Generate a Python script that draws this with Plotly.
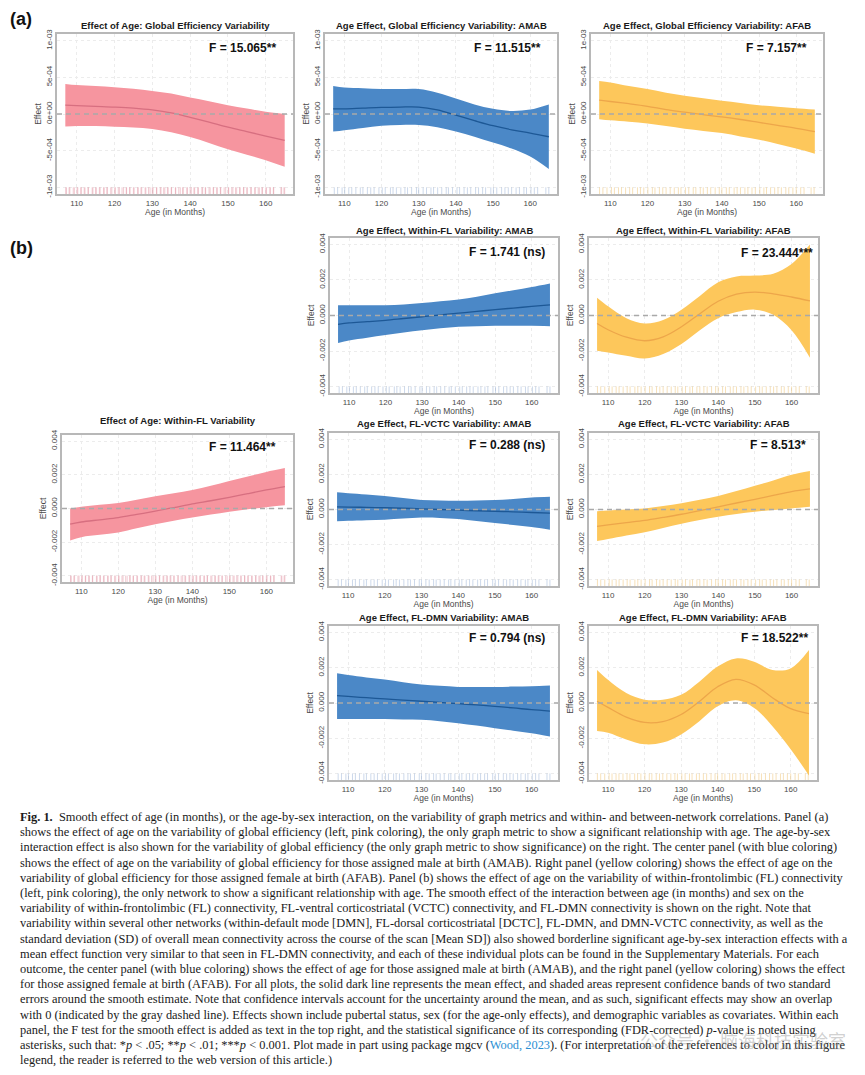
import plotly.graph_objects as go

# the page body adds an 8px margin, so the figure is drawn 8px smaller and
# every pixel position below is measured on the full 865x1075 page
OFF = 8
W, H = 865 - OFF, 1075 - OFF

age = [107, 110, 115, 120, 125, 130, 135, 140, 145, 150, 155, 160, 165]
age_ticks = [110, 120, 130, 140, 150, 160]

# ages of the individual scans, drawn as a rug along the bottom
rug_amab = [107.3, 108.2, 109.4, 110.1, 111.2, 112.0, 113.1, 114.3, 115.0, 116.2, 117.1, 118.0,
            119.3, 120.2, 121.0, 122.4, 123.1, 124.0, 125.2, 126.3, 127.0, 128.1, 129.4, 130.0,
            131.2, 132.1, 133.3, 134.0, 135.1, 136.2, 137.4, 138.0, 139.1, 140.3, 141.0, 142.2,
            143.1, 144.0, 145.3, 146.1, 147.2, 148.0, 149.4, 150.1, 151.0, 152.3, 153.2, 154.1,
            155.0, 156.2, 157.1, 158.3, 159.0, 160.2, 161.1, 162.0, 164.2, 165.0]
rug_afab = [107.1, 108.0, 109.1, 110.3, 111.1, 112.2, 113.0, 114.1, 115.2, 116.0, 117.3, 118.1,
            119.0, 120.1, 121.3, 122.0, 123.2, 124.1, 125.0, 126.1, 127.2, 128.3, 129.0, 130.2,
            131.1, 132.3, 133.0, 134.2, 135.0, 136.1, 137.0, 138.2, 139.3, 140.0, 141.2, 142.0,
            143.3, 144.1, 145.0, 146.2, 147.0, 148.1, 149.0, 150.2, 151.3, 152.0, 153.1, 154.2,
            155.1, 156.0, 157.2, 158.0, 159.1, 160.0, 161.2, 162.1, 164.0, 164.8]
rug_all = sorted(rug_amab + rug_afab)

# (a) global efficiency variability, in units of 1e-4
ge_all_mean = [1.2, 1.15, 1.05, 0.95, 0.8, 0.55, 0.15, -0.45, -1.1, -1.8, -2.4, -3.0, -3.6]
ge_all_upper = [4.1, 3.95, 3.8, 3.65, 3.45, 3.15, 2.8, 2.25, 1.75, 1.2, 0.75, 0.3, 0.0]
ge_all_lower = [-1.7, -1.65, -1.65, -1.75, -1.85, -2.05, -2.5, -3.15, -3.95, -4.8, -5.55, -6.3, -7.2]

ge_amab_mean = [0.7, 0.7, 0.8, 0.9, 0.95, 0.95, 0.55, -0.15, -0.9, -1.6, -2.15, -2.6, -3.1]
ge_amab_upper = [3.8, 3.6, 3.5, 3.4, 3.4, 3.4, 2.9, 2.1, 1.3, 0.7, 0.4, 0.6, 1.3]
ge_amab_lower = [-2.4, -2.2, -1.9, -1.6, -1.5, -1.5, -1.8, -2.4, -3.1, -3.9, -4.7, -5.8, -7.5]

ge_afab_mean = [1.9, 1.7, 1.4, 1.05, 0.6, 0.25, -0.1, -0.4, -0.75, -1.15, -1.55, -1.95, -2.4]
ge_afab_upper = [4.5, 4.3, 3.8, 3.4, 2.9, 2.5, 2.15, 1.8, 1.5, 1.2, 1.0, 0.8, 0.6]
ge_afab_lower = [-0.7, -0.85, -1.05, -1.3, -1.65, -2.0, -2.3, -2.6, -3.05, -3.5, -4.1, -4.7, -5.4]

# (b) connectivity variability, in units of 1e-3
fl_all_mean = [-0.93, -0.8, -0.67, -0.54, -0.35, -0.16, 0.05, 0.27, 0.46, 0.66, 0.88, 1.1, 1.3]
fl_all_upper = [0.0, 0.1, 0.22, 0.33, 0.52, 0.72, 0.9, 1.1, 1.35, 1.63, 1.9, 2.17, 2.4]
fl_all_lower = [-1.9, -1.7, -1.56, -1.42, -1.17, -0.93, -0.73, -0.54, -0.36, -0.19, -0.05, 0.08, 0.19]

fl_amab_mean = [-0.5, -0.42, -0.35, -0.27, -0.17, -0.07, 0.04, 0.13, 0.23, 0.33, 0.42, 0.51, 0.6]
fl_amab_upper = [0.58, 0.58, 0.58, 0.58, 0.62, 0.7, 0.8, 0.9, 1.05, 1.25, 1.42, 1.6, 1.8]
fl_amab_lower = [-1.55, -1.4, -1.25, -1.1, -0.95, -0.83, -0.72, -0.63, -0.6, -0.58, -0.58, -0.58, -0.6]

fl_afab_mean = [-0.45, -0.8, -1.22, -1.42, -1.2, -0.63, 0.1, 0.8, 1.2, 1.32, 1.22, 1.04, 0.82]
fl_afab_upper = [1.0, 0.52, -0.15, -0.45, -0.25, 0.33, 1.1, 1.87, 2.2, 2.25, 2.35, 2.9, 4.0]
fl_afab_lower = [-1.98, -2.08, -2.27, -2.42, -2.17, -1.6, -0.83, -0.15, 0.19, 0.33, 0.04, -0.83, -2.37]

vctc_amab_mean = [0.15, 0.14, 0.12, 0.1, 0.07, 0.04, 0.0, -0.04, -0.07, -0.1, -0.13, -0.17, -0.21]
vctc_amab_upper = [0.98, 0.92, 0.85, 0.77, 0.65, 0.54, 0.52, 0.5, 0.52, 0.54, 0.6, 0.69, 0.73]
vctc_amab_lower = [-0.67, -0.64, -0.61, -0.58, -0.52, -0.46, -0.48, -0.54, -0.65, -0.77, -0.88, -1.0, -1.15]

vctc_afab_mean = [-0.96, -0.88, -0.75, -0.62, -0.45, -0.27, -0.06, 0.15, 0.37, 0.58, 0.8, 1.02, 1.17]
vctc_afab_upper = [-0.1, -0.06, 0.0, 0.06, 0.2, 0.35, 0.55, 0.77, 1.05, 1.35, 1.65, 1.98, 2.2]
vctc_afab_lower = [-1.8, -1.68, -1.48, -1.29, -1.05, -0.81, -0.6, -0.42, -0.26, -0.13, -0.03, 0.06, 0.15]

dmn_amab_mean = [0.42, 0.37, 0.3, 0.23, 0.16, 0.1, 0.03, -0.04, -0.11, -0.19, -0.28, -0.38, -0.46]
dmn_amab_upper = [1.68, 1.58, 1.45, 1.33, 1.18, 1.05, 0.97, 0.91, 0.9, 0.91, 0.93, 0.95, 0.99]
dmn_amab_lower = [-0.91, -0.91, -0.91, -0.91, -0.93, -0.95, -1.03, -1.14, -1.28, -1.43, -1.57, -1.71, -1.9]

dmn_afab_mean = [0.1, -0.25, -0.8, -1.1, -1.05, -0.65, 0.09, 0.92, 1.34, 1.03, 0.3, -0.32, -0.6]
dmn_afab_upper = [1.87, 1.31, 0.56, 0.19, 0.19, 0.47, 1.21, 2.06, 2.52, 2.34, 1.87, 1.96, 3.0]
dmn_afab_lower = [-1.59, -1.68, -2.06, -2.34, -2.24, -1.78, -1.03, -0.19, 0.15, -0.28, -1.31, -2.62, -4.1]

ticks_a = [-1e-3, -5e-4, 0, 5e-4, 1e-3]
ticktext_a = ["-1e-03", "-5e-04", "0e+00", "5e-04", "1e-03"]
ticks_b = [-0.004, -0.002, 0, 0.002, 0.004]
ticktext_b = ["-0.004", "-0.002", "0.000", "0.002", "0.004"]

PINK = dict(fill="#f6959f", line="#d76f80", rug="rgba(215,110,130,0.35)")
BLUE = dict(fill="#4b88c7", line="#1d5896", rug="rgba(90,130,190,0.3)")
YELLOW = dict(fill="#fdc75b", line="#eda64a", rug="rgba(235,180,80,0.4)")

# box = (left, right, top, bottom) of the plot frame, in page pixels
panels = [
    dict(title="Effect of Age: Global Efficiency Variability", f="F = 15.065**",
         data=(ge_all_mean, ge_all_lower, ge_all_upper), unit=1e-4, kind="a",
         col=PINK, rug=rug_all, box=(57, 293, 34, 194), title_y=26, f_x=0.936, f_y=0.91),
    dict(title="Age Effect, Global Efficiency Variability: AMAB", f="F = 11.515**",
         data=(ge_amab_mean, ge_amab_lower, ge_amab_upper), unit=1e-4, kind="a",
         col=BLUE, rug=rug_amab, box=(325, 557, 34, 194), title_y=26, f_x=0.938, f_y=0.91),
    dict(title="Age Effect, Global Efficiency Variability: AFAB", f="F = 7.157**",
         data=(ge_afab_mean, ge_afab_lower, ge_afab_upper), unit=1e-4, kind="a",
         col=YELLOW, rug=rug_afab, box=(591, 823, 34, 194), title_y=26, f_x=0.94, f_y=0.91),
    dict(title="Age Effect, Within-FL Variability: AMAB", f="F = 1.741 (ns)",
         data=(fl_amab_mean, fl_amab_lower, fl_amab_upper), unit=1e-3, kind="b",
         col=BLUE, rug=rug_amab, box=(330, 558, 238, 393), title_y=230, f_x=0.952, f_y=0.91),
    dict(title="Age Effect, Within-FL Variability: AFAB", f="F = 23.444***",
         data=(fl_afab_mean, fl_afab_lower, fl_afab_upper), unit=1e-3, kind="b",
         col=YELLOW, rug=rug_afab, box=(589, 818, 238, 393), title_y=230, f_x=0.987, f_y=0.905),
    dict(title="Effect of Age: Within-FL Variability", f="F = 11.464**",
         data=(fl_all_mean, fl_all_lower, fl_all_upper), unit=1e-3, kind="b",
         col=PINK, rug=rug_all, box=(62, 293, 435, 582), title_y=420, f_x=0.935, f_y=0.915),
    dict(title="Age Effect, FL-VCTC Variability: AMAB", f="F = 0.288 (ns)",
         data=(vctc_amab_mean, vctc_amab_lower, vctc_amab_upper), unit=1e-3, kind="b",
         col=BLUE, rug=rug_amab, box=(329, 558, 433, 586), title_y=424, f_x=0.952, f_y=0.92),
    dict(title="Age Effect, FL-VCTC Variability: AFAB", f="F = 8.513*",
         data=(vctc_afab_mean, vctc_afab_lower, vctc_afab_upper), unit=1e-3, kind="b",
         col=YELLOW, rug=rug_afab, box=(589, 818, 433, 586), title_y=424, f_x=0.956, f_y=0.92),
    dict(title="Age Effect, FL-DMN Variability: AMAB", f="F = 0.794 (ns)",
         data=(dmn_amab_mean, dmn_amab_lower, dmn_amab_upper), unit=1e-3, kind="b",
         col=BLUE, rug=rug_amab, box=(329, 558, 626, 780), title_y=617, f_x=0.952, f_y=0.92),
    dict(title="Age Effect, FL-DMN Variability: AFAB", f="F = 18.522**",
         data=(dmn_afab_mean, dmn_afab_lower, dmn_afab_upper), unit=1e-3, kind="b",
         col=YELLOW, rug=rug_afab, box=(589, 817, 626, 780), title_y=617, f_x=0.97, f_y=0.92),
]

caption_lines = [
    "<b>Fig. 1.</b>  Smooth effect of age (in months), or the age-by-sex interaction, on the variability of graph metrics and within- and between-network correlations. Panel (a)",
    "shows the effect of age on the variability of global efficiency (left, pink coloring), the only graph metric to show a significant relationship with age. The age-by-sex",
    "interaction effect is also shown for the variability of global efficiency (the only graph metric to show significance) on the right. The center panel (with blue coloring)",
    "shows the effect of age on the variability of global efficiency for those assigned male at birth (AMAB). Right panel (yellow coloring) shows the effect of age on the",
    "variability of global efficiency for those assigned female at birth (AFAB). Panel (b) shows the effect of age on the variability of within-frontolimbic (FL) connectivity",
    "(left, pink coloring), the only network to show a significant relationship with age. The smooth effect of the interaction between age (in months) and sex on the",
    "variability of within-frontolimbic (FL) connectivity, FL-ventral corticostriatal (VCTC) connectivity, and FL-DMN connectivity is shown on the right. Note that",
    "variability within several other networks (within-default mode [DMN], FL-dorsal corticostriatal [DCTC], FL-DMN, and DMN-VCTC connectivity, as well as the",
    "standard deviation (SD) of overall mean connectivity across the course of the scan [Mean SD]) also showed borderline significant age-by-sex interaction effects with a",
    "mean effect function very similar to that seen in FL-DMN connectivity, and each of these individual plots can be found in the Supplementary Materials. For each",
    "outcome, the center panel (with blue coloring) shows the effect of age for those assigned male at birth (AMAB), and the right panel (yellow coloring) shows the effect",
    "for those assigned female at birth (AFAB). For all plots, the solid dark line represents the mean effect, and shaded areas represent confidence bands of two standard",
    "errors around the smooth estimate. Note that confidence intervals account for the uncertainty around the mean, and as such, significant effects may show an overlap",
    "with 0 (indicated by the gray dashed line). Effects shown include pubertal status, sex (for the age-only effects), and demographic variables as covariates. Within each",
    "panel, the F test for the smooth effect is added as text in the top right, and the statistical significance of its corresponding (FDR-corrected) <i>p</i>-value is noted using",
    "asterisks, such that: *<i>p</i> &lt; .05; **<i>p</i> &lt; .01; ***<i>p</i> &lt; 0.001. Plot made in part using package mgcv (<span style='color:#2b8fd3'>Wood, 2023</span>). (For interpretation of the references to color in this figure",
    "legend, the reader is referred to the web version of this article.)",
]

SANS = "Liberation Sans, Arial, sans-serif"
SERIF = "Liberation Serif, Times New Roman, serif"


def px(x):
    return (x - OFF) / W


def py(y):
    return 1 - (y - OFF) / H


fig = go.Figure()
annotations = []
shapes = []

for i, p in enumerate(panels):
    n = i + 1
    xa = "x" if n == 1 else f"x{n}"
    ya = "y" if n == 1 else f"y{n}"
    mean, lower, upper = [[v * p["unit"] for v in s] for s in p["data"]]
    col = p["col"]
    if p["kind"] == "a":
        yrange, tickvals, ticktext = [-1.09e-3, 1.09e-3], ticks_a, ticktext_a
    else:
        yrange, tickvals, ticktext = [-4.36e-3, 4.36e-3], ticks_b, ticktext_b

    fig.add_trace(go.Scatter(x=age, y=lower, mode="lines", line=dict(width=0, shape="spline"),
                             xaxis=xa, yaxis=ya, hoverinfo="skip"))
    fig.add_trace(go.Scatter(x=age, y=upper, mode="lines", line=dict(width=0, shape="spline"),
                             fill="tonexty", fillcolor=col["fill"], xaxis=xa, yaxis=ya,
                             hoverinfo="skip"))
    fig.add_trace(go.Scatter(x=age, y=mean, mode="lines",
                             line=dict(width=1.3, color=col["line"], shape="spline"),
                             xaxis=xa, yaxis=ya))
    rug_y = yrange[0] + 0.02 * (yrange[1] - yrange[0])
    fig.add_trace(go.Scatter(x=p["rug"], y=[rug_y] * len(p["rug"]), mode="markers",
                             marker=dict(symbol="line-ns", size=5,
                                         line=dict(width=1, color=col["rug"])),
                             xaxis=xa, yaxis=ya, hoverinfo="skip"))

    left, right, top, bottom = p["box"]
    axis_common = dict(showline=True, mirror=True, linecolor="#b8b8b8", linewidth=1.8,
                       showgrid=True, gridcolor="#ececec", griddash="dot", gridwidth=1,
                       zeroline=False, ticks="", automargin=False,
                       tickfont=dict(size=8, color="#4a4a4a", family=SANS))
    fig.update_layout({
        f"xaxis{'' if n == 1 else n}": dict(
            axis_common, domain=[px(left), px(right)], anchor=ya,
            range=[104.8, 167.2], tickvals=age_ticks,
            title=dict(text="Age (in Months)", standoff=0,
                       font=dict(size=8.5, color="#4a4a4a", family=SANS)),
        ),
        f"yaxis{'' if n == 1 else n}": dict(
            axis_common, domain=[py(bottom), py(top)], anchor=xa,
            range=yrange, tickvals=tickvals, ticktext=ticktext, tickangle=-90,
            title=dict(text="Effect", standoff=2,
                       font=dict(size=8.5, color="#4a4a4a", family=SANS)),
        ),
    })

    shapes.append(dict(type="line", xref=f"{xa} domain", x0=0, x1=1, yref=ya, y0=0, y1=0,
                       line=dict(color="#a9a9a9", width=1.5, dash="5px,4px"), layer="above"))

    annotations.append(dict(text=f"<b>{p['title']}</b>", xref=f"{xa} domain", x=0.5,
                            yref="paper", y=py(p["title_y"]), xanchor="center",
                            yanchor="middle", showarrow=False,
                            font=dict(size=9.5, color="#1a1a1a", family=SANS)))
    annotations.append(dict(text=f"<b>{p['f']}</b>", xref=f"{xa} domain", x=p["f_x"],
                            yref=f"{ya} domain", y=p["f_y"], xanchor="right",
                            yanchor="middle", showarrow=False,
                            font=dict(size=12, color="#111111", family=SANS)))

# panel letters, hung from their top edge so that (a) stays inside the figure
for label, y_top in [("(a)", 8), ("(b)", 237)]:
    annotations.append(dict(text=f"<b>{label}</b>", xref="paper", yref="paper", x=px(9),
                            y=py(y_top), xanchor="left", yanchor="top", showarrow=False,
                            borderpad=0, font=dict(size=18, color="#111111", family=SANS)))

for k, line in enumerate(caption_lines):
    annotations.append(dict(text=line, xref="paper", yref="paper", x=px(18),
                            y=py(817 + 15.2 * k), xanchor="left", yanchor="middle",
                            showarrow=False, font=dict(size=12.4, color="#1a1a1a", family=SERIF)))

annotations.append(dict(text="公众号 · 脑海科技实验室", xref="paper", yref="paper", x=px(848),
                        y=py(1040), xanchor="right", yanchor="middle", showarrow=False,
                        font=dict(size=18, color="rgba(150,150,150,0.45)",
                                  family="Noto Sans CJK SC")))

fig.update_layout(
    width=W,
    height=H,
    margin=dict(l=0, r=0, t=0, b=0),
    paper_bgcolor="white",
    plot_bgcolor="white",
    showlegend=False,
    annotations=annotations,
    shapes=shapes,
    font=dict(family=SANS),
)

fig.write_html("out.html")
